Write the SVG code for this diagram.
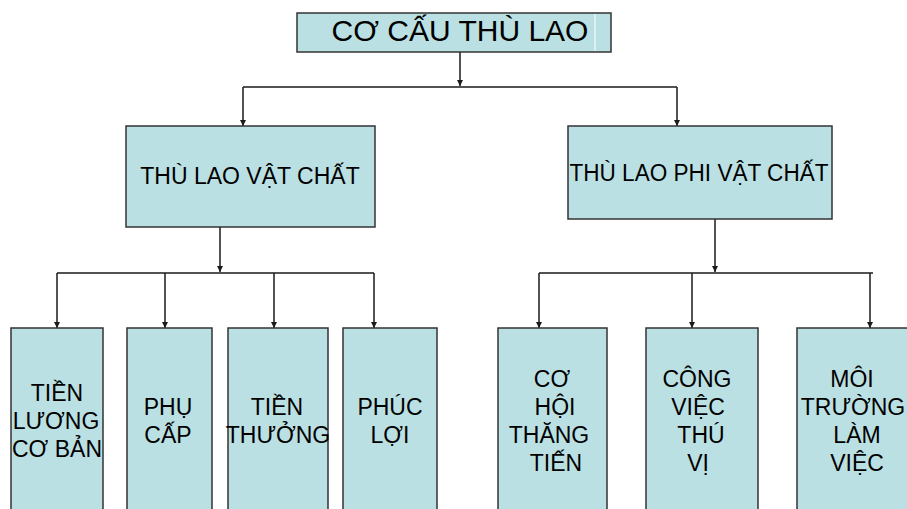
<svg xmlns="http://www.w3.org/2000/svg" width="907" height="509" viewBox="0 0 907 509">
<defs>
<style>
.box{fill:#BBE0E3;stroke:#333333;stroke-width:1.5}
.t{font-family:"Liberation Sans",Arial,sans-serif;font-size:23px;fill:#000000;text-anchor:middle}
.c{fill:none;stroke:#1a1a1a;stroke-width:1.5}
</style>
<marker id="ah" viewBox="0 0 10 10" refX="10" refY="5" markerWidth="6" markerHeight="6" markerUnits="userSpaceOnUse" orient="auto">
<path d="M0,0 L10,5 L0,10 Z" fill="#1a1a1a"/>
</marker>
</defs>
<rect width="907" height="509" fill="#ffffff"/>
<g id="connectors">
<path class="c" d="M460,52 V86" marker-end="url(#ah)"/>
<path class="c" d="M243,87 H677"/>
<path class="c" d="M243,87 V126" marker-end="url(#ah)"/>
<path class="c" d="M677,87 V126" marker-end="url(#ah)"/>
<path class="c" d="M220,227 V272" marker-end="url(#ah)"/>
<path class="c" d="M57,273 H374"/>
<path class="c" d="M57,273 V328" marker-end="url(#ah)"/>
<path class="c" d="M165,273 V328" marker-end="url(#ah)"/>
<path class="c" d="M274,273 V328" marker-end="url(#ah)"/>
<path class="c" d="M374,273 V328" marker-end="url(#ah)"/>
<path class="c" d="M715,219 V272" marker-end="url(#ah)"/>
<path class="c" d="M539,273 H873"/>
<path class="c" d="M539,273 V328" marker-end="url(#ah)"/>
<path class="c" d="M692,273 V328" marker-end="url(#ah)"/>
<path class="c" d="M870,273 V328" marker-end="url(#ah)"/>
</g>
<g id="root">
<rect class="box" x="297" y="13" width="314" height="39"/>
<line x1="595" y1="14" x2="595" y2="51" stroke="#ffffff" stroke-width="1"/>
<text class="t" x="460" y="41" style="font-size:30px">CƠ CẤU THÙ LAO</text>
</g>
<g id="vatchat">
<rect class="box" x="126" y="126" width="249" height="101"/>
<text class="t" x="250" y="184">THÙ LAO VẬT CHẤT</text>
</g>
<g id="phivatchat">
<rect class="box" x="568" y="126" width="264" height="93"/>
<text class="t" x="699" y="181" textLength="259" lengthAdjust="spacingAndGlyphs">THÙ LAO PHI VẬT CHẤT</text>
</g>
<g id="tienluong">
<rect class="box" x="11" y="328" width="92" height="190"/>
<text class="t" x="57" y="401">TIỀN</text>
<text class="t" x="56" y="429">LƯƠNG</text>
<text class="t" x="57" y="457">CƠ BẢN</text>
</g>
<g id="phucap">
<rect class="box" x="127" y="328" width="85" height="190"/>
<text class="t" x="168" y="415">PHỤ</text>
<text class="t" x="168" y="443">CẤP</text>
</g>
<g id="tienthuong">
<rect class="box" x="228" y="328" width="100" height="190"/>
<text class="t" x="277" y="415">TIỀN</text>
<text class="t" x="278" y="443">THƯỞNG</text>
</g>
<g id="phucloi">
<rect class="box" x="343" y="328" width="94" height="190"/>
<text class="t" x="390" y="415">PHÚC</text>
<text class="t" x="390" y="443">LỢI</text>
</g>
<g id="cohoi">
<rect class="box" x="498" y="328" width="109" height="190"/>
<text class="t" x="552" y="387">CƠ</text>
<text class="t" x="555" y="415">HỘI</text>
<text class="t" x="549" y="443">THĂNG</text>
<text class="t" x="556" y="471">TIẾN</text>
</g>
<g id="congviec">
<rect class="box" x="646" y="328" width="112" height="190"/>
<text class="t" x="697" y="387">CÔNG</text>
<text class="t" x="698" y="415">VIỆC</text>
<text class="t" x="701" y="443">THÚ</text>
<text class="t" x="698" y="471">VỊ</text>
</g>
<g id="moitruong">
<rect class="box" x="797" y="328" width="120" height="190"/>
<text class="t" x="852" y="387">MÔI</text>
<text class="t" x="853" y="415">TRƯỜNG</text>
<text class="t" x="857" y="443">LÀM</text>
<text class="t" x="857" y="471">VIỆC</text>
</g>
</svg>
